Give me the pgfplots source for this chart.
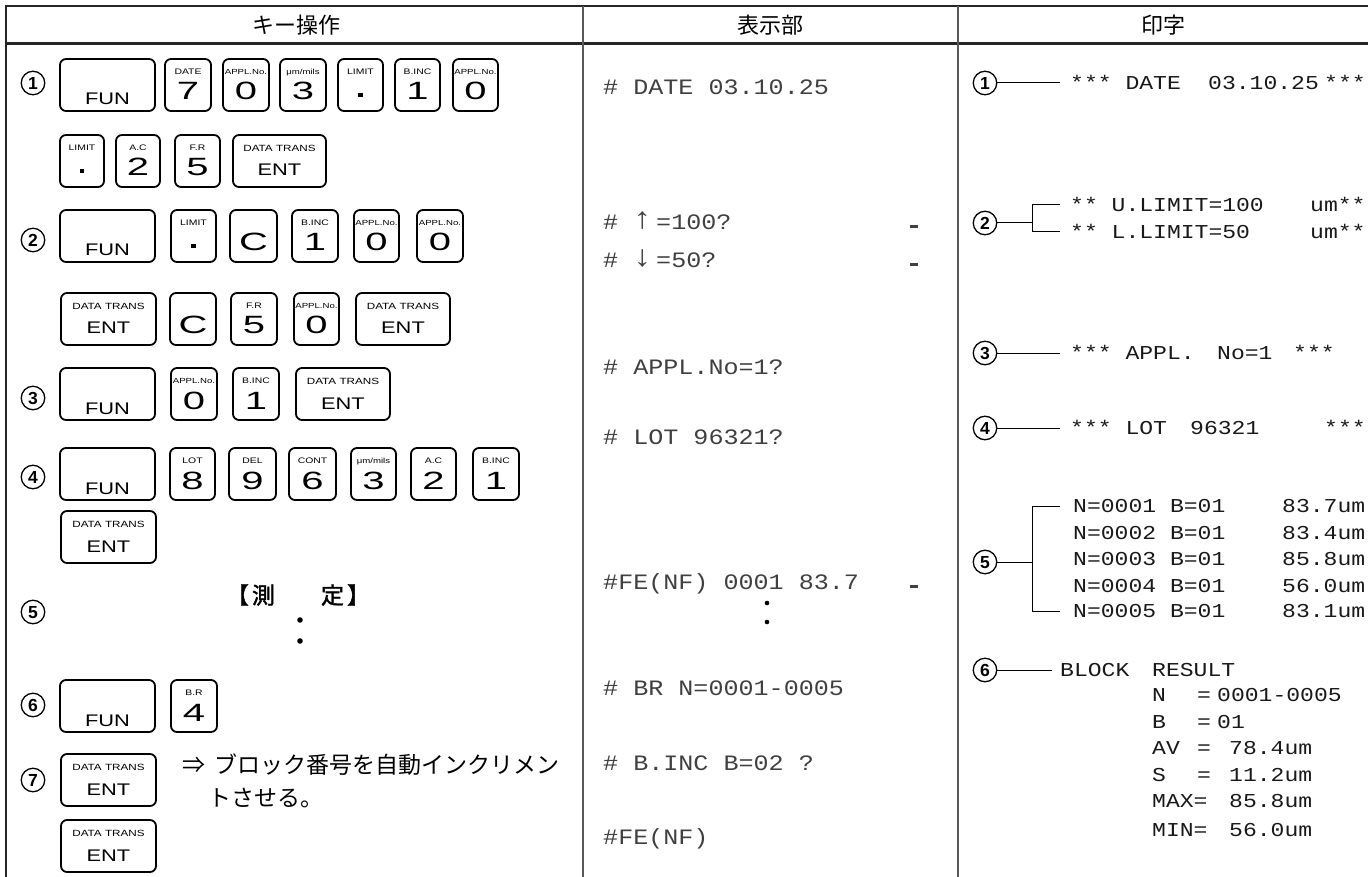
\documentclass[border=0pt]{standalone}
\usepackage{fontspec}
\usepackage{pgfplots}
\pgfplotsset{compat=1.18}
\setmainfont{Liberation Sans}
\newfontfamily\cjk{Noto Sans CJK JP}
\newfontfamily\cjkb[FakeBold=1.5]{Noto Sans CJK JP}
\newfontfamily\keyfont[FakeStretch=1.3]{Liberation Sans}
\newfontfamily\digfont[FakeStretch=1.6]{Liberation Sans}
\newfontfamily\dispfont[FakeStretch=1.14]{Liberation Mono}
\newfontfamily\prtfont[FakeStretch=1.17]{Liberation Mono}

\tikzset{
  keyline/.style={line width=1.8pt, rounded corners=6pt},
  keysmall/.style={font=\keyfont\fontsize{8}{8}\selectfont, inner sep=0pt, text height=5.8pt, text depth=0pt},
  keytrans/.style={font=\keyfont\fontsize{9}{9}\selectfont, inner sep=0pt, text height=6.4pt, text depth=0pt},
  keydig/.style={font=\digfont\fontsize{25}{25}\selectfont, inner sep=0pt, text height=18pt, text depth=0pt},
  keyword/.style={font=\keyfont\fontsize{16.8}{16.8}\selectfont, inner sep=0pt, text height=12pt, text depth=0pt},
  circ/.style={circle, draw, line width=1.3pt, minimum size=23.5pt, inner sep=0pt, font=\bfseries\fontsize{17.5}{17.5}\selectfont, text height=12.5pt, text depth=0pt},
  disp/.style={font=\dispfont\fontsize{22}{22}\selectfont, anchor=west, inner sep=0pt, text height=14.5pt, text depth=0pt, text=black!75},
  disparrow/.style={font=\dispfont\fontsize{30}{30}\selectfont, anchor=west, inner sep=0pt, text height=20pt, text depth=0pt, text=black!75},
  prt/.style={font=\prtfont\fontsize{19.7}{19.7}\selectfont, anchor=west, inner sep=0pt, text height=13pt, text depth=0pt, text=black!90},
  head/.style={font=\cjk\fontsize{22}{22}\selectfont, inner sep=0pt, text height=19pt, text depth=2.6pt},
}

% FUN key: top
\newcommand{\FUNkey}[1]{%
  \draw[keyline] (axis cs:60,#1) rectangle (axis cs:155,#1+52);
  \node[keyword] at (axis cs:107.5,#1+40) {FUN};}
% ENT key: x1, x2, top
\newcommand{\ENTkey}[3]{%
  \draw[keyline] (axis cs:#1,#3) rectangle (axis cs:#2,#3+52);
  \node[keytrans] at (axis cs:{(#1+#2)/2},#3+13) {DATA TRANS};
  \node[keyword] at (axis cs:{(#1+#2)/2},#3+35) {ENT};}
% digit key: x1, x2, top, small, main
\newcommand{\Dkey}[5]{%
  \draw[keyline] (axis cs:#1,#3) rectangle (axis cs:#2,#3+52);
  \node[keysmall] at (axis cs:{(#1+#2)/2},#3+13) {#4};
  \node[keydig] at (axis cs:{(#1+#2)/2},#3+32) {#5};}
% dot key: x1, x2, top, small
\newcommand{\Pkey}[4]{%
  \draw[keyline] (axis cs:#1,#3) rectangle (axis cs:#2,#3+52);
  \node[keysmall] at (axis cs:{(#1+#2)/2},#3+13) {#4};
  \fill (axis cs:{(#1+#2)/2-2.2},#3+34.5) rectangle (axis cs:{(#1+#2)/2+2.2},#3+38.5);}

\begin{document}
\begin{tikzpicture}
\begin{axis}[
  hide axis, scale only axis, width=1368pt, height=877pt,
  xmin=0, xmax=1368, ymin=0, ymax=877, y dir=reverse, clip=false]
\coordinate (TL) at (axis cs:0,0);
\coordinate (BR) at (axis cs:1368,877);

% ---- table frame ----
\addplot[black!85, line width=2.4pt, mark=none] coordinates {(5,6) (1368,6)};
\addplot[black!85, line width=2.4pt, mark=none] coordinates {(5,43.5) (1368,43.5)};
\addplot[black!85, line width=2.2pt, mark=none] coordinates {(6,5) (6,877)};
\addplot[black!65, line width=1.8pt, mark=none] coordinates {(583,6) (583,877)};
\addplot[black!65, line width=1.8pt, mark=none] coordinates {(958,6) (958,877)};

% ---- headers ----
\node[head] at (axis cs:296,25) {キー操作};
\node[head] at (axis cs:770,25) {表示部};
\node[head] at (axis cs:1163,25) {印字};

% ---- left column: circled numbers ----
\node[circ] at (axis cs:33,83) {1};
\node[circ] at (axis cs:33,240) {2};
\node[circ] at (axis cs:33,398) {3};
\node[circ] at (axis cs:33,477) {4};
\node[circ] at (axis cs:33,612) {5};
\node[circ] at (axis cs:33,705) {6};
\node[circ] at (axis cs:33,780) {7};

% ---- row 1 ----
\FUNkey{59}
\Dkey{165}{211}{59}{DATE}{7}
\Dkey{223}{269}{59}{\fontsize{7.4}{7.4}\selectfont APPL.No.}{0}
\Dkey{280}{326}{59}{\fontsize{7.4}{7.4}\selectfont μm/mils}{3}
\Pkey{338}{383}{59}{LIMIT}
\Dkey{395}{440}{59}{B.INC}{1}
\Dkey{453}{498}{59}{\fontsize{7.4}{7.4}\selectfont APPL.No.}{0}
% ---- row 1b ----
\Pkey{60}{104}{135}{LIMIT}
\Dkey{116}{160}{135}{A.C}{2}
\Dkey{175}{220}{135}{F.R}{5}
\ENTkey{233}{326}{135}
% ---- row 2 ----
\FUNkey{210}
\Pkey{171}{216}{210}{LIMIT}
\Dkey{230}{277}{210}{}{C}
\Dkey{292}{338}{210}{B.INC}{1}
\Dkey{354}{399}{210}{\fontsize{7.4}{7.4}\selectfont APPL.No.}{0}
\Dkey{417}{463}{210}{\fontsize{7.4}{7.4}\selectfont APPL.No.}{0}
% ---- row 2b ----
\ENTkey{61}{156}{293}
\Dkey{170}{216}{293}{}{C}
\Dkey{231}{277}{293}{F.R}{5}
\Dkey{294}{339}{293}{\fontsize{7.4}{7.4}\selectfont APPL.No.}{0}
\ENTkey{356}{450}{293}
% ---- row 3 ----
\FUNkey{368}
\Dkey{171}{217}{368}{\fontsize{7.4}{7.4}\selectfont APPL.No.}{0}
\Dkey{233}{279}{368}{B.INC}{1}
\ENTkey{296}{390}{368}
% ---- row 4 ----
\FUNkey{448}
\Dkey{170}{215}{448}{LOT}{8}
\Dkey{229}{276}{448}{DEL}{9}
\Dkey{289}{336}{448}{CONT}{6}
\Dkey{351}{396}{448}{\fontsize{7.4}{7.4}\selectfont μm/mils}{3}
\Dkey{411}{456}{448}{A.C}{2}
\Dkey{473}{519}{448}{B.INC}{1}
\ENTkey{61}{156}{511}
% ---- row 5 ----
\node[font=\cjkb\fontsize{23}{23}\selectfont, inner sep=0pt] at (axis cs:298,595) {【\hspace{3pt}測　　定\hspace{3pt}】};
\fill (axis cs:300,620) circle[radius=2.8pt];
\fill (axis cs:300,641) circle[radius=2.8pt];
% ---- row 6 ----
\FUNkey{680}
\Dkey{171}{217}{680}{B.R}{4}
% ---- row 7 ----
\ENTkey{61}{156}{754}
\node[font=\cjk\fontsize{23}{23}\selectfont, anchor=west, inner sep=0pt, text height=19pt, text depth=2.6pt] at (axis cs:182,765) {⇒\hspace{9pt}ブロック番号を自動インクリメン};
\node[font=\cjk\fontsize{23}{23}\selectfont, anchor=west, inner sep=0pt, text height=19pt, text depth=2.6pt] at (axis cs:208,798) {トさせる。};
\ENTkey{61}{156}{820}

% ---- middle column: display ----
\node[disp] at (axis cs:603,87) {\# DATE 03.10.25};
\node[disp] at (axis cs:603,222) {\#};
\node[disparrow] at (axis cs:632,219) {↑};
\node[disp] at (axis cs:656,222) {=100?};
\node[disp] at (axis cs:603,260) {\#};
\node[disparrow] at (axis cs:632,257) {↓};
\node[disp] at (axis cs:656,260) {=50?};
\fill[black!75] (axis cs:910,225.5) rectangle (axis cs:918,228.5);
\fill[black!75] (axis cs:910,263.5) rectangle (axis cs:918,266.5);
\node[disp] at (axis cs:603,367) {\# APPL.No=1?};
\node[disp] at (axis cs:603,437) {\# LOT 96321?};
\node[disp] at (axis cs:603,582) {\#FE(NF) 0001 83.7};
\fill[black!75] (axis cs:910,584.5) rectangle (axis cs:918,587.5);
\fill (axis cs:767,603) circle[radius=2.3pt];
\fill (axis cs:767,622) circle[radius=2.3pt];
\node[disp] at (axis cs:603,688) {\# BR N=0001-0005};
\node[disp] at (axis cs:603,763) {\# B.INC B=02 ?};
\node[disp] at (axis cs:603,837) {\#FE(NF)};

% ---- right column: print ----
\node[circ] at (axis cs:985,83) {1};
\node[circ] at (axis cs:985,223) {2};
\node[circ] at (axis cs:985,353) {3};
\node[circ] at (axis cs:985,428) {4};
\node[circ] at (axis cs:985,562) {5};
\node[circ] at (axis cs:985,670) {6};
\addplot[black, line width=1pt, mark=none] coordinates {(997,83) (1060,83)};
\addplot[black, line width=1pt, mark=none] coordinates {(997,223) (1032,223)};
\addplot[black, line width=1pt, mark=none] coordinates {(1060,205) (1032,205) (1032,232) (1060,232)};
\addplot[black, line width=1pt, mark=none] coordinates {(997,353) (1060,353)};
\addplot[black, line width=1pt, mark=none] coordinates {(997,428) (1060,428)};
\addplot[black, line width=1pt, mark=none] coordinates {(997,562) (1032,562)};
\addplot[black, line width=1pt, mark=none] coordinates {(1060,506) (1032,506) (1032,611) (1060,611)};
\addplot[black, line width=1pt, mark=none] coordinates {(997,670) (1052,670)};

\node[prt] at (axis cs:1070,83) {*** DATE};
\node[prt] at (axis cs:1208,83) {03.10.25};
\node[prt] at (axis cs:1324,83) {***};
\node[prt] at (axis cs:1070,205) {** U.LIMIT=100};
\node[prt] at (axis cs:1310,205) {um**};
\node[prt] at (axis cs:1070,232) {** L.LIMIT=50};
\node[prt] at (axis cs:1310,232) {um**};
\node[prt] at (axis cs:1070,353) {*** APPL.};
\node[prt] at (axis cs:1217,353) {No=1};
\node[prt] at (axis cs:1293,353) {***};
\node[prt] at (axis cs:1070,428) {*** LOT};
\node[prt] at (axis cs:1190,428) {96321};
\node[prt] at (axis cs:1324,428) {***};

\node[prt] at (axis cs:1073,506) {N=0001 B=01};
\node[prt] at (axis cs:1073,533) {N=0002 B=01};
\node[prt] at (axis cs:1073,559) {N=0003 B=01};
\node[prt] at (axis cs:1073,586) {N=0004 B=01};
\node[prt] at (axis cs:1073,611) {N=0005 B=01};
\node[prt] at (axis cs:1282,506) {83.7um};
\node[prt] at (axis cs:1282,533) {83.4um};
\node[prt] at (axis cs:1282,559) {85.8um};
\node[prt] at (axis cs:1282,586) {56.0um};
\node[prt] at (axis cs:1282,611) {83.1um};

\node[prt] at (axis cs:1060,670) {BLOCK};
\node[prt] at (axis cs:1152,670) {RESULT};
\node[prt] at (axis cs:1152,695) {N};
\node[prt] at (axis cs:1197,695) {=};
\node[prt] at (axis cs:1217,695) {0001-0005};
\node[prt] at (axis cs:1152,722) {B};
\node[prt] at (axis cs:1197,722) {=};
\node[prt] at (axis cs:1217,722) {01};
\node[prt] at (axis cs:1152,748) {AV};
\node[prt] at (axis cs:1197,748) {=};
\node[prt] at (axis cs:1229,748) {78.4um};
\node[prt] at (axis cs:1152,775) {S};
\node[prt] at (axis cs:1197,775) {=};
\node[prt] at (axis cs:1229,775) {11.2um};
\node[prt] at (axis cs:1152,801) {MAX=};
\node[prt] at (axis cs:1229,801) {85.8um};
\node[prt] at (axis cs:1152,830) {MIN=};
\node[prt] at (axis cs:1229,830) {56.0um};
\end{axis}
\pgfresetboundingbox
\path (TL) rectangle (BR);
\end{tikzpicture}
\end{document}
